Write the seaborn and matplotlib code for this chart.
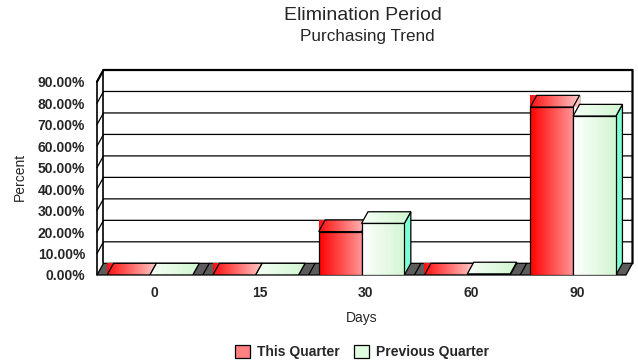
import numpy as np
import pandas as pd
import matplotlib
matplotlib.use("Agg")
import matplotlib.pyplot as plt
import seaborn as sns
from matplotlib.patches import Polygon, Patch
from matplotlib.colors import LinearSegmentedColormap

# ---- data -------------------------------------------------------------
days = ["0", "15", "30", "60", "90"]
this_quarter = [0.0, 0.0, 20.2, 0.0, 78.2]
previous_quarter = [0.0, 0.0, 24.0, 0.5, 74.0]
series_names = ["This Quarter", "Previous Quarter"]
y_ticks = [0, 10, 20, 30, 40, 50, 60, 70, 80, 90]
y_tick_labels = [f"{v:.2f}%" for v in y_ticks]

df = pd.DataFrame({
    "Days": days * 2,
    "Percent": this_quarter + previous_quarter,
    "Series": [series_names[0]] * len(days) + [series_names[1]] * len(days),
})

sns.set_style("white")
plt.rcParams["font.family"] = ["Liberation Sans", "DejaVu Sans"]

# ---- layout (pixels) --------------------------------------------------
W, H, DPI = 638, 362, 100
front_left, front_right = 97, 626
front_bottom, front_top = 275, 81.7
depth_px = (6.5, 11.7)          # shift of the back plane (right, up)
y_max = 90

px_x = (front_right - front_left) / len(days)
px_y = (front_bottom - front_top) / y_max
ddx = depth_px[0] / px_x
ddy = depth_px[1] / px_y

fig = plt.figure(figsize=(W / DPI, H / DPI), dpi=DPI)
ax = fig.add_axes([front_left / W, (H - front_bottom) / H,
                   (front_right + depth_px[0] - front_left) / W,
                   (front_bottom - front_top + depth_px[1]) / H])

palette = {series_names[0]: "#ff4040", series_names[1]: "#eaffea"}
sns.barplot(data=df, x="Days", y="Percent", hue="Series", order=days,
            hue_order=series_names, palette=palette, width=0.81,
            errorbar=None, legend=False, ax=ax,
            edgecolor="black", linewidth=0.9)

x_lo, x_hi = -0.5, len(days) - 0.5
ax.set_xlim(x_lo, x_hi + ddx)
ax.set_ylim(0, y_max + ddy)
ax.set_autoscale_on(False)
for s in ax.spines.values():
    s.set_visible(False)
ax.set_xlabel("")
ax.set_ylabel("")

LW = 0.9

# back wall, grid lines and left wall
ax.add_patch(Polygon([(x_lo + ddx, ddy), (x_hi + ddx, ddy),
                      (x_hi + ddx, y_max + ddy), (x_lo + ddx, y_max + ddy)],
                     closed=True, fc="white", ec="none", zorder=0.5))
for v in y_ticks[1:]:
    ax.plot([x_lo, x_lo + ddx, x_hi + ddx], [v, v + ddy, v + ddy],
            color="black", lw=LW, zorder=1, clip_on=False)
ax.plot([x_lo, x_lo], [0, y_max], color="black", lw=1.2, zorder=1.2, clip_on=False)
ax.plot([x_lo + ddx, x_lo + ddx], [ddy, y_max + ddy], color="black", lw=1.2,
        zorder=1.2, clip_on=False)
ax.plot([x_lo, x_lo + ddx, x_hi + ddx, x_hi + ddx],
        [y_max, y_max + ddy, y_max + ddy, ddy],
        color="black", lw=1.6, zorder=1.2, clip_on=False)

# floor slab with group separators
ax.add_patch(Polygon([(x_lo, 0), (x_hi, 0), (x_hi + ddx, ddy), (x_lo + ddx, ddy)],
                     closed=True, fc="#5c5c5c", ec="black", lw=LW, zorder=2,
                     clip_on=False))
for k in range(len(days) - 1):
    b = k + 0.5
    ax.plot([b, b + ddx], [0, ddy], color="black", lw=LW, zorder=2.1)


def gradient(extent, c0, c1, z, clip=None):
    cmap = LinearSegmentedColormap.from_list("shade", [c0, c1])
    im = ax.imshow(np.linspace(0, 1, 256)[None, :], cmap=cmap, extent=extent,
                   aspect="auto", interpolation="bilinear", origin="lower",
                   zorder=z)
    if clip is not None:
        im.set_clip_path(clip)
    im.set_clip_on(clip is not None)
    return im


front_colors = [("#ff0000", "#ff9494"), ("#ffffff", "#d2f6d2")]
top_colors = [("#ff1010", "#ffcaca"), ("#f6fff6", "#d0f6d0")]
side_colors = ["white", "#7fffd4"]

# 3D extrusion of every seaborn bar, drawn left to right
ordered = []
for k in range(len(days)):
    for h, cont in enumerate(ax.containers):
        ordered.append((h, cont.patches[k]))

for j, (h, bar) in enumerate(ordered):
    x0, w, top = bar.get_x(), bar.get_width(), bar.get_height()
    base = 3 + j
    ax.add_patch(Polygon([(x0 + w, 0), (x0 + w, top), (x0 + w + ddx, top + ddy),
                          (x0 + w + ddx, ddy)], closed=True, fc=side_colors[h],
                         ec="black", lw=LW, zorder=base))
    top_face = Polygon([(x0, top), (x0 + w, top), (x0 + w + ddx, top + ddy),
                        (x0 + ddx, top + ddy)], closed=True, fc="none",
                       ec="black", lw=LW, zorder=base + 0.3)
    ax.add_patch(top_face)
    gradient((x0, x0 + w + ddx, top, top + ddy), *top_colors[h], base + 0.2,
             clip=None if h == 0 else top_face)
    if top > 0:
        gradient((x0, x0 + w, 0, top), *front_colors[h], base + 0.5, clip=bar)
    bar.set_facecolor("none")
    bar.set_zorder(base + 0.6)

# ticks
ax.set_yticks(y_ticks)
ax.set_yticklabels(y_tick_labels, fontsize=10, fontweight="bold")
ax.set_xticks(np.arange(len(days)) + 4 / px_x)
ax.set_xticklabels(days, fontsize=10, fontweight="bold")
ax.tick_params(axis="both", length=0)
ax.tick_params(axis="y", pad=8.5)
ax.tick_params(axis="x", pad=8)

# titles and axis labels
fig.text(363 / W, 1 - 15 / H, "Elimination Period", ha="center", va="center",
         fontsize=14)
fig.text(367.5 / W, 1 - 36 / H, "Purchasing Trend", ha="center", va="center",
         fontsize=12.3)
fig.text(361.7 / W, 1 - 318 / H, "Days", ha="center", va="center", fontsize=10)
fig.text(20 / W, 1 - 177 / H, "Percent", ha="center", va="center", fontsize=10,
         rotation=90)

handles = [Patch(fc="#ff8080", ec="black", lw=LW, label=series_names[0]),
           Patch(fc="#e0ffe0", ec="black", lw=LW, label=series_names[1])]
fig.legend(handles=handles, loc="center", bbox_to_anchor=(362 / W, 1 - 351.7 / H),
           ncol=2, frameon=False, prop={"weight": "bold", "size": 10},
           handlelength=1.1, handleheight=1.1, handletextpad=0.5,
           columnspacing=1.0, borderaxespad=0, borderpad=0)

fig.savefig("out.png", dpi=DPI, facecolor="white")
